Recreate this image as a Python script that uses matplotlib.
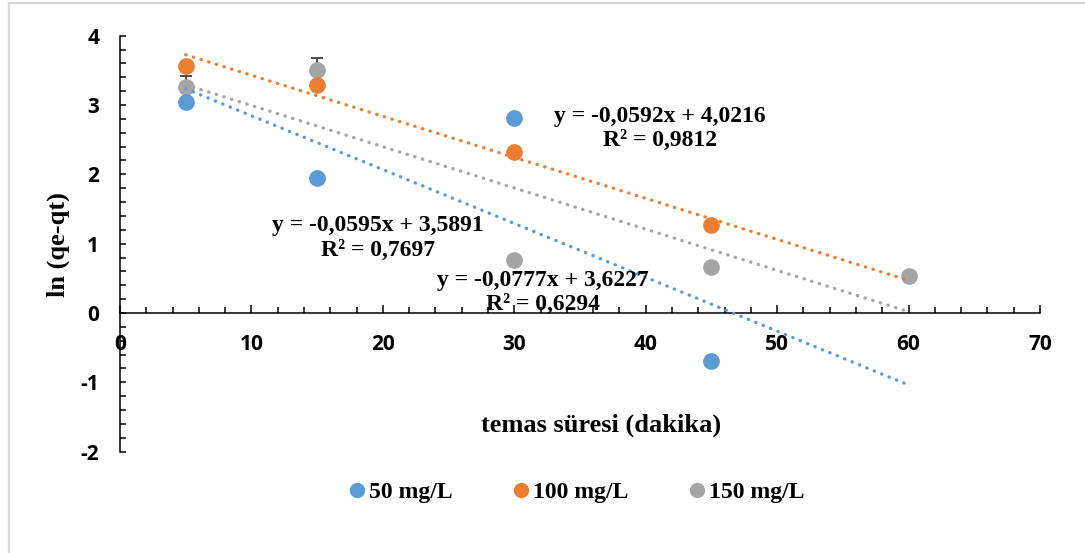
import numpy as np
import matplotlib.pyplot as plt
from matplotlib.ticker import MultipleLocator
from matplotlib.patches import Rectangle
from matplotlib.lines import Line2D

# contact time (min) and ln(qe-qt) for each concentration
x_50 = [5, 15, 30, 45]
y_50 = [3.05, 1.95, 2.81, -0.70]
x_100 = [5, 15, 30, 45]
y_100 = [3.57, 3.29, 2.32, 1.27]
x_150 = [5, 15, 30, 45, 60]
y_150 = [3.26, 3.50, 0.76, 0.66, 0.54]
err_150 = [0.16, 0.18, 0.0, 0.0, 0.0]

series_names = ["50 mg/L", "100 mg/L", "150 mg/L"]
colors = ["#5B9BD5", "#ED7D31", "#A5A5A5"]

# linear trendlines (slope, intercept, R2) as printed on the chart
fit_50 = (-0.0777, 3.6227, 0.6294)
fit_100 = (-0.0592, 4.0216, 0.9812)
fit_150 = (-0.0595, 3.5891, 0.7697)
trend_range = (5, 60)

serif = "Liberation Serif"
sans = "Open Sans"
plt.rcParams["axes.unicode_minus"] = False

fig = plt.figure(figsize=(10.85, 5.53), dpi=100)
ax = fig.add_axes([0.1106, 0.1834, 0.8479, 0.7520])

# light chart border
fig.patches.append(Rectangle((8.5 / 1085, -0.5), 1.2, 1.5 - 2.5 / 553,
                             transform=fig.transFigure, fill=False,
                             ec="#D9D9D9", lw=1.6, zorder=0))

ax.errorbar(x_150, y_150, yerr=[np.zeros(len(err_150)), err_150], fmt="none",
            ecolor="#404040", elinewidth=1.3, capsize=4.3, capthick=1.3, zorder=2)
ax.plot(x_150, y_150, "o", color=colors[2], ms=11, zorder=3)
ax.plot(x_50, y_50, "o", color=colors[0], ms=11, zorder=3)
ax.plot(x_100, y_100, "o", color=colors[1], ms=11, zorder=3)

xt = np.array(trend_range, dtype=float)
for fit, c in [(fit_50, colors[0]), (fit_100, colors[1]), (fit_150, colors[2])]:
    ax.plot(xt, fit[0] * xt + fit[1], color=c, lw=2.4,
            linestyle=(0, (0.1, 2.3)), dash_capstyle="round", zorder=4)


def eq_label(fit):
    s = f"{fit[0]:.4f}".replace(".", ",")
    b = f"{fit[1]:.4f}".replace(".", ",")
    r = f"{fit[2]:.4f}".replace(".", ",")
    return f"y = {s}x + {b}\nR² = {r}"


eq_style = dict(ha="center", va="center", fontsize=17, fontweight="bold",
                family=serif, linespacing=1.2, zorder=5)
ax.text(41.1, 2.66, eq_label(fit_100), **eq_style)
ax.text(19.6, 1.08, eq_label(fit_150), **eq_style)
ax.text(32.2, 0.30, eq_label(fit_50), **eq_style)

ax.set_xlim(0, 70)
ax.set_ylim(-2, 4)
ax.spines["top"].set_visible(False)
ax.spines["right"].set_visible(False)
ax.spines["bottom"].set_position(("data", 0))
ax.spines["left"].set_linewidth(1.1)
ax.spines["bottom"].set_linewidth(1.1)

ax.xaxis.set_major_locator(MultipleLocator(10))
ax.xaxis.set_minor_locator(MultipleLocator(2))
ax.yaxis.set_major_locator(MultipleLocator(1))
ax.yaxis.set_minor_locator(MultipleLocator(0.2))
ax.tick_params(axis="x", which="major", direction="in", length=5.5, width=1.1, pad=15)
ax.tick_params(axis="x", which="minor", direction="in", length=4, width=1.1)
ax.tick_params(axis="y", which="both", direction="in", length=4, width=1.1, pad=15)
for lab in ax.get_xticklabels() + ax.get_yticklabels():
    lab.set_fontsize(15)
    lab.set_fontweight("bold")
    lab.set_family(sans)

fig.text(601 / 1085, 1 - 425 / 553, "temas süresi (dakika)", ha="center", va="center",
         fontsize=19, fontweight="bold", family=serif)
fig.text(58 / 1085, 1 - 245 / 553, "ln (qe-qt)", ha="center", va="center", rotation=90,
         fontsize=19, fontweight="bold", family=serif)

handles = [Line2D([], [], ls="none", marker="o", color=c, ms=10) for c in colors]
fig.legend(handles, series_names, loc="center", bbox_to_anchor=(575 / 1085, 1 - 492 / 553),
           ncol=3, frameon=False, handletextpad=0.0, columnspacing=2.4, handlelength=1.0,
           prop={"family": serif, "weight": "bold", "size": 17})

fig.savefig("out.png", dpi=100)
